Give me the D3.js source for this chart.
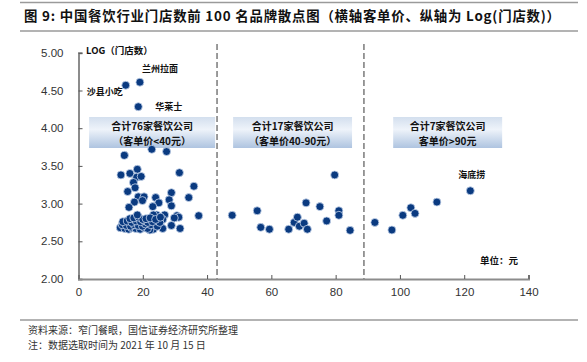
<!DOCTYPE html>
<html><head><meta charset="utf-8">
<script src="https://cdn.jsdelivr.net/npm/d3@7"></script>
<style>
body{margin:0;background:#fff;}
svg{display:block;font-family:"Liberation Sans",Arial,sans-serif;}
</style></head>
<body><svg id="c" width="587" height="362"></svg>
<script>
// ---- data ----
const groupLow = [
  [14.7,4.57],[19.1,4.61],[18.6,4.285],[22.8,3.72],[27.4,3.69],[14.3,3.64],
  [13.2,3.38],[16.0,3.40],[18.3,3.455],[18.1,3.35],[19.5,3.36],[17.1,3.28],[17.6,3.21],[15.3,3.16],[31.4,3.41],[35.9,3.23],
  [28.9,3.145],[18.6,3.09],[20.4,3.09],[19.9,3.04],[17.4,3.02],[24.0,3.08],[25.0,3.01],[28.2,3.05],[34.3,3.08],
  [15.7,2.95],[23.1,2.96],[28.9,2.97],
  [37.4,2.84],[30.6,2.84],[31.2,2.82],[29.8,2.81],[26.8,2.85],[26.2,2.79],[24.3,2.85],[23.3,2.85],[28.9,2.71],[31.6,2.67],[26.2,2.67],[23.3,2.66],[22.2,2.65],
  [13.0,2.68],[14.4,2.67],[15.6,2.66],[16.5,2.68],[17.8,2.67],[19.2,2.66],[20.5,2.68],[21.5,2.67],
  [13.6,2.72],[14.9,2.71],[16.2,2.70],[17.3,2.72],[18.6,2.71],[19.9,2.70],[20.8,2.73],[22.5,2.72],[24.5,2.70],
  [13.8,2.76],[15.2,2.77],[16.6,2.75],[17.9,2.77],[19.3,2.76],[20.4,2.78],[21.6,2.75],[23.0,2.76],[25.3,2.75],
  [16.0,2.80],[17.2,2.81],[18.7,2.82],[20.0,2.79],[21.0,2.80],[22.3,2.81],[24.0,2.79],[25.5,2.82],[18.3,2.85]
];
const groupMid = [
  [47.8,2.845],[55.6,2.905],[56.7,2.685],[59.4,2.66],[65.4,2.66],[67.1,2.75],[68.1,2.82],[68.7,2.70],
  [70.2,2.74],[71.2,2.66],[70.8,3.01],[75.1,2.96],[77.2,2.77],[79.7,3.38],[81.0,2.905],[81.0,2.845],[84.5,2.645]
];
const groupHigh = [[92.2,2.75],[97.5,2.65],[100.9,2.845],[103.4,2.945],[104.7,2.87],[111.5,3.02],[121.9,3.17]];
const xTicks = [0,20,40,60,80,100,120,140];
const yTicks = [2.00,2.50,3.00,3.50,4.00,4.50,5.00];
const dividers = [43.1,88.8];
const brandLabels = [
  {name:"兰州拉面", x:19.1, y:4.61},
  {name:"沙县小吃", x:14.7, y:4.57},
  {name:"华莱士", x:18.6, y:4.285},
  {name:"海底捞", x:121.9, y:3.17}
];
const groupBoxes = [
  {l1:"合计76家餐饮公司", l2:"（客单价<40元）", x0:3.3, x1:42.5},
  {l1:"合计17家餐饮公司", l2:"（客单价40-90元）", x0:48.1, x1:85.1},
  {l1:"合计7家餐饮公司", l2:"客单价>90元", x0:97.9, x1:131.8}
];
const title = "图 9: 中国餐饮行业门店数前 100 名品牌散点图（横轴客单价、纵轴为 Log(门店数)）";
const notes = ["资料来源：窄门餐眼，国信证券经济研究所整理","注：数据选取时间为 2021 年 10 月 15 日"];

// ---- drawing ----
const svg = d3.select("#c");
const cjk = '"Noto Sans CJK SC","Noto Sans",sans-serif';
const x = d3.scaleLinear().domain([0,140]).range([78.5,528.5]);
const y = d3.scaleLinear().domain([2,5]).range([279,52.8]);

// title & rules
svg.append("line").attr("x1",20).attr("x2",578).attr("y1",2.5).attr("y2",2.5).attr("stroke","#9a9a9a").attr("stroke-width",1.5);
svg.append("text").attr("x",24).attr("y",21).attr("font-family",cjk).attr("font-weight","bold").attr("font-size",13.4)
  .attr("textLength",536).attr("lengthAdjust","spacing").attr("fill","#111").text(title);
svg.append("line").attr("x1",20).attr("x2",578).attr("y1",31).attr("y2",31).attr("stroke","#9a9a9a").attr("stroke-width",1.5);

// gradient for boxes
const defs = svg.append("defs");
const g = defs.append("linearGradient").attr("id","bx").attr("x1",0).attr("x2",0).attr("y1",0).attr("y2",1);
g.append("stop").attr("offset","0%").attr("stop-color","#d3dfee");
g.append("stop").attr("offset","40%").attr("stop-color","#eef3fa");
g.append("stop").attr("offset","100%").attr("stop-color","#aec4e0");

// divider dashed lines
svg.selectAll(".div").data(dividers).join("line")
  .attr("x1",d=>x(d)).attr("x2",d=>x(d)).attr("y1",44).attr("y2",279)
  .attr("stroke","#7a7a7a").attr("stroke-width",1.5).attr("stroke-dasharray","6,3");

// axes
const yAxis = d3.axisLeft(y).tickValues(yTicks).tickFormat(d3.format(".2f")).tickSize(-4).tickPadding(15);
const gy = svg.append("g").attr("transform","translate(78.5,0)").call(yAxis);
const xAxis = d3.axisBottom(x).tickValues(xTicks).tickFormat(d3.format("d")).tickSize(-4).tickPadding(9);
const gx = svg.append("g").attr("transform","translate(0,279)").call(xAxis);
[gx,gy].forEach(a=>{
  a.select(".domain").attr("stroke","#8c8c8c").attr("stroke-width",2);
  a.selectAll(".tick line").attr("stroke","#555").attr("stroke-width",1);
  a.selectAll(".tick text").attr("font-size",11.5).attr("fill","#333").attr("font-family",'"Liberation Sans",Arial,sans-serif');
});

// boxes
const bg = svg.selectAll(".bx").data(groupBoxes).join("g");
bg.append("rect").attr("x",d=>x(d.x0)).attr("width",d=>x(d.x1)-x(d.x0)).attr("y",117).attr("height",31).attr("fill","url(#bx)");
bg.append("text").attr("x",d=>(x(d.x0)+x(d.x1))/2).attr("y",130).attr("text-anchor","middle")
  .attr("font-family",cjk).attr("font-weight","bold").attr("font-size",10).attr("fill","#111").text(d=>d.l1);
bg.append("text").attr("x",d=>(x(d.x0)+x(d.x1))/2).attr("y",144.7).attr("text-anchor","middle")
  .attr("font-family",cjk).attr("font-weight","bold").attr("font-size",10).attr("fill","#111").text(d=>d.l2);

// dots
const all = groupLow.concat(groupMid, groupHigh);
svg.append("g").selectAll("circle").data(all).join("circle")
  .attr("cx",d=>x(d[0])).attr("cy",d=>y(d[1])).attr("r",4)
  .attr("fill","#0a3a80").attr("stroke","#c9d7ec").attr("stroke-width",0.8);

// brand labels
const off = {"兰州拉面":[2,-10,"start"],"沙县小吃":[-39,10,"start"],"华莱士":[17,3,"start"],"海底捞":[-12,-13,"start"]};
svg.selectAll(".bl").data(brandLabels).join("text")
  .attr("x",d=>x(d.x)+off[d.name][0]).attr("y",d=>y(d.y)+off[d.name][1])
  .attr("font-family",cjk).attr("font-weight","bold").attr("font-size",9).attr("fill","#111").text(d=>d.name);

svg.append("text").attr("x",86).attr("y",54).attr("font-family",cjk).attr("font-weight","bold").attr("font-size",9.5).attr("fill","#111").text("LOG（门店数）");
svg.append("text").attr("x",480).attr("y",264).attr("font-family",cjk).attr("font-weight","bold").attr("font-size",9.5).attr("fill","#111").text("单位：元");

// footer
svg.append("line").attr("x1",20).attr("x2",578).attr("y1",320).attr("y2",320).attr("stroke","#9a9a9a").attr("stroke-width",1.5);
svg.selectAll(".nt").data(notes).join("text").attr("x",28).attr("y",(d,i)=>334+i*15)
  .attr("font-family",cjk).attr("font-size",10).attr("fill","#333").text(d=>d);
</script></body></html>
